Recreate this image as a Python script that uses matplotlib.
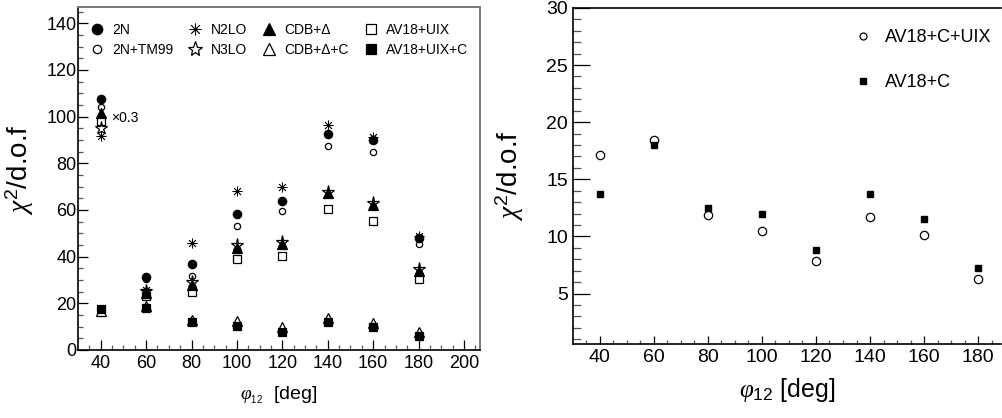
import numpy as np
import matplotlib
matplotlib.use("Agg")
import matplotlib.pyplot as plt
from matplotlib.lines import Line2D

plt.rcParams['font.family'] = ['Liberation Sans', 'DejaVu Sans']
plt.rcParams['mathtext.fontset'] = 'custom'
plt.rcParams['mathtext.rm'] = 'Liberation Sans'
plt.rcParams['mathtext.it'] = 'Liberation Serif:italic'

# ---------------- Daten linkes Bild (Werte bei 40 deg mit x0.3 skaliert) ----------------
phi = [40, 60, 80, 100, 120, 140, 160, 180]
chi_2N       = [107.6, 31.1, 36.7, 58.1, 64.0, 92.6, 90.0, 48.0]
chi_2N_TM99  = [104.0, 30.3, 31.7, 53.3, 59.6, 87.4, 85.0, 45.3]
chi_N2LO     = [91.5, 25.5, 45.7, 68.1, 69.7, 96.4, 91.1, 48.9]
chi_N3LO     = [95.0, 25.4, 29.3, 45.0, 46.1, 67.9, 62.9, 34.6]
chi_CDB      = [101.5, 24.3, 27.9, 43.6, 45.3, 67.1, 62.1, 33.9]
chi_CDB_C    = [16.5, 18.9, 12.9, 12.6, 9.7, 13.6, 11.7, 7.6]
chi_AV18     = [98.3, 23.1, 25.0, 38.9, 40.4, 60.6, 55.1, 30.4]
chi_AV18_C   = [17.4, 17.9, 12.1, 10.3, 7.9, 11.9, 10.0, 6.1]

# ---------------- Daten rechtes Bild ----------------
phi_r = [40, 60, 80, 100, 120, 140, 160, 180]
chi_AV18_C_UIX = [17.15, 18.4, 11.9, 10.5, 7.85, 11.7, 10.1, 6.3]
chi_AV18_Conly = [13.7, 18.0, 12.5, 12.0, 8.85, 13.75, 11.55, 7.2]

fig = plt.figure(figsize=(10.02, 4.18), dpi=100)
ax1 = fig.add_axes([0.0778, 0.1627, 0.4012, 0.8206])
ax2 = fig.add_axes([0.5716, 0.1763, 0.4275, 0.8047])

# Stil der Serien: (Werte, Marker, gefuellt, Groesse, Label)
series = [
    (chi_2N, 'o', True, 6.0, '2N'),
    (chi_2N_TM99, 'o', False, 4.5, '2N+TM99'),
    (chi_N2LO, (8, 2, 0), True, 7.0, 'N2LO'),
    (chi_N3LO, '*', False, 9.5, 'N3LO'),
    (chi_CDB, '^', True, 6.5, 'CDB+Δ'),
    (chi_CDB_C, '^', False, 6.5, 'CDB+Δ+C'),
    (chi_AV18, 's', False, 5.2, 'AV18+UIX'),
    (chi_AV18_C, 's', True, 5.2, 'AV18+UIX+C'),
]

handles = []
for vals, m, filled, ms, lab in series:
    fc = 'black' if filled else 'none'
    mw = 0.6 if m == (8, 2, 0) else 0.9
    ax1.plot(phi, vals, linestyle='none', marker=m, ms=ms, mfc=fc, mec='black', mew=mw)
    handles.append(Line2D([], [], linestyle='none', marker=m, ms=ms + 1.5, mfc=fc,
                          mec='black', mew=mw, label=lab))

ax1.text(44.5, 99.5, '×0.3', fontsize=10, va='center', ha='left')

ax1.set_xlim(30, 207)
ax1.set_ylim(0, 147)
ax1.set_xticks(np.arange(40, 201, 20))
ax1.set_xticks(np.arange(35, 206, 5), minor=True)
ax1.set_yticks(np.arange(0, 141, 20))
ax1.set_yticks(np.arange(5, 146, 5), minor=True)
ax1.tick_params(which='both', direction='in', top=False, right=False, labelsize=13, width=0.9)
ax1.tick_params(which='major', length=7)
ax1.tick_params(which='minor', length=3.6, color='#555555')
ax1.tick_params(axis='y', pad=1)
ax1.tick_params(axis='x', pad=3.6)
for s in ['left', 'bottom']:
    ax1.spines[s].set_linewidth(1.2)
for s in ['top', 'right']:
    ax1.spines[s].set_linewidth(1.4)
    ax1.spines[s].set_color('#777777')

ax1.legend(handles=handles, ncol=4, loc='upper left', bbox_to_anchor=(0.0293, 0.953),
           frameon=False, fontsize=10, handlelength=1.0, handletextpad=0.6,
           columnspacing=1.1, labelspacing=0.4, borderpad=0, borderaxespad=0)

ax1.set_ylabel(r'$\chi^{2}$/d.o.f', fontsize=20)
ax1.yaxis.set_label_coords(-0.105, 0.525)
ax1.set_xlabel(r'$\varphi_{_{12}}$  [deg]', fontsize=14)
ax1.xaxis.set_label_coords(0.5, -0.1)

# ---------------- rechtes Bild ----------------
ax2.plot(phi_r, chi_AV18_C_UIX, linestyle='none', marker='o', ms=6, mfc='none', mec='black', mew=0.9)
ax2.plot(phi_r, chi_AV18_Conly, linestyle='none', marker='s', ms=5, mfc='black', mec='black')
h2 = [Line2D([], [], linestyle='none', marker='o', ms=5, mfc='none', mec='black', mew=0.9, label='AV18+C+UIX'),
      Line2D([], [], linestyle='none', marker='s', ms=4.5, mfc='black', mec='black', label='AV18+C')]
ax2.legend(handles=h2, loc='upper left', bbox_to_anchor=(0.657, 0.936), frameon=False,
           fontsize=13, handlelength=1.0, handletextpad=0.72, labelspacing=1.55,
           borderpad=0, borderaxespad=0)

ax2.set_xlim(30, 188.5)
ax2.set_ylim(0.56, 30)
ax2.set_xticks(np.arange(40, 181, 20))
ax2.set_xticks(np.arange(35, 188, 5), minor=True)
ax2.set_yticks(np.arange(5, 31, 5))
ax2.set_yticks(np.arange(1, 30, 1), minor=True)
ax2.tick_params(which='both', direction='in', top=False, right=False, labelsize=14, width=0.9)
ax2.tick_params(axis='y', which='major', length=12, pad=3.4)
ax2.tick_params(axis='y', which='minor', length=6, color='#555555')
ax2.tick_params(axis='x', which='major', length=5.5, pad=3.6)
ax2.tick_params(axis='x', which='minor', length=3, color='#555555')
ax2.spines['right'].set_visible(False)
for s in ['left', 'bottom', 'top']:
    ax2.spines[s].set_linewidth(1.2)

ax2.set_ylabel(r'$\chi^{2}$/d.o.f', fontsize=20)
ax2.yaxis.set_label_coords(-0.11, 0.5)
ax2.set_xlabel(r'$\varphi_{12}$ [deg]', fontsize=18)
ax2.xaxis.set_label_coords(0.5, -0.095)

fig.savefig('out.png', dpi=100)
